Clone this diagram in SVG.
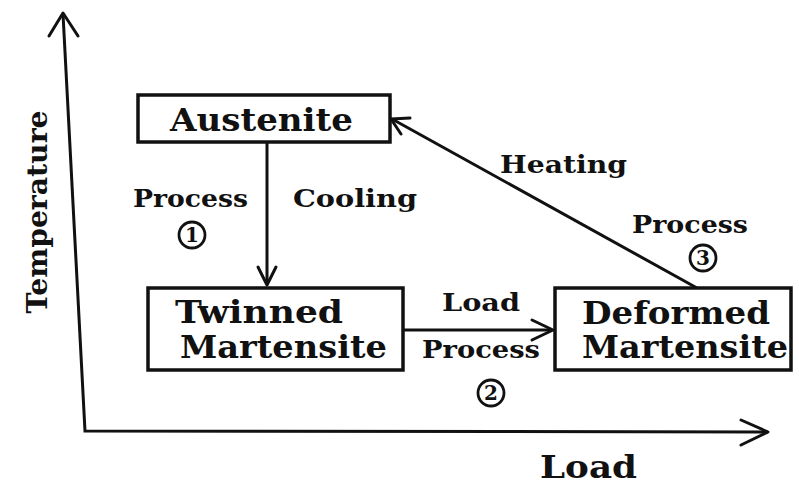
<svg xmlns="http://www.w3.org/2000/svg" width="799" height="485" viewBox="0 0 799 485">
<style>
.box{fill:#fff;stroke:#111;stroke-width:3.5}
.t{font-family:"DejaVu Serif","Liberation Serif",serif;font-weight:bold;fill:#111}
.big{font-size:31px}
.lbl{font-size:25px}
.num{font-size:20px}
.ln{stroke:#111;stroke-width:3;fill:none}
.ah{stroke:#111;stroke-width:3;fill:none;stroke-linecap:round;stroke-linejoin:round}
.cir{fill:none;stroke:#111;stroke-width:2.8}
</style>
<rect width="799" height="485" fill="#fff"/>
<g id="axes">
<path class="ln" d="M63,14 L85,431 L768,432"/>
<path class="ah" d="M49,36 L63,13 L78,36"/>
<path class="ah" d="M741,420 L768,432 L741,445"/>
<text class="t" font-size="28" transform="translate(47,212) rotate(-90)" text-anchor="middle" textLength="203" lengthAdjust="spacingAndGlyphs">Temperature</text>
<text class="t" font-size="31" x="540" y="478" textLength="97" lengthAdjust="spacingAndGlyphs">Load</text>
</g>
<g id="connectors">
<line class="ln" x1="267" y1="142" x2="267" y2="284"/>
<path class="ah" d="M258,267 L267,285 L276,267"/>
<line class="ln" x1="403" y1="330" x2="552" y2="330"/>
<path class="ah" d="M532,320 L553,330 L532,340"/>
<line class="ln" x1="697" y1="288" x2="392" y2="119"/>
<path class="ah" d="M401,134 L391,119 L410,118"/>
</g>
<g id="austenite">
<rect class="box" x="138" y="95" width="252" height="47"/>
<text class="t big" x="170" y="131" textLength="183" lengthAdjust="spacingAndGlyphs">Austenite</text>
</g>
<g id="twinned">
<rect class="box" x="148" y="288" width="255" height="82"/>
<text class="t big" x="175" y="323" textLength="168" lengthAdjust="spacingAndGlyphs">Twinned</text>
<text class="t big" x="180" y="358" textLength="207" lengthAdjust="spacingAndGlyphs">Martensite</text>
</g>
<g id="deformed">
<rect class="box" x="555" y="288" width="236" height="82"/>
<text class="t big" x="582" y="324" textLength="188" lengthAdjust="spacingAndGlyphs">Deformed</text>
<text class="t big" x="582" y="358" textLength="206" lengthAdjust="spacingAndGlyphs">Martensite</text>
</g>
<g id="labels">
<text class="t lbl" x="133" y="207" textLength="115" lengthAdjust="spacingAndGlyphs">Process</text>
<circle class="cir" cx="192" cy="235" r="13"/>
<text class="t num" x="192" y="242" text-anchor="middle">1</text>
<text class="t lbl" x="293" y="207" textLength="124" lengthAdjust="spacingAndGlyphs">Cooling</text>
<text class="t lbl" x="500" y="173" textLength="127" lengthAdjust="spacingAndGlyphs">Heating</text>
<text class="t lbl" x="632" y="233" textLength="116" lengthAdjust="spacingAndGlyphs">Process</text>
<circle class="cir" cx="703" cy="258" r="13"/>
<text class="t num" x="703" y="265" text-anchor="middle">3</text>
<text class="t lbl" x="442" y="311" textLength="78" lengthAdjust="spacingAndGlyphs">Load</text>
<text class="t lbl" x="422" y="358" textLength="118" lengthAdjust="spacingAndGlyphs">Process</text>
<circle class="cir" cx="491" cy="393" r="13"/>
<text class="t num" x="491" y="400" text-anchor="middle">2</text>
</g>
</svg>
